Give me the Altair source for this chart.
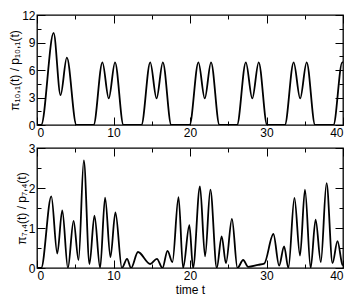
import altair as alt
import pandas as pd

# ---- data ----
t_top = [0, 0.55, 2.17, 3.08, 3.9, 5.15,
         7.4, 8.55, 9.38, 10.2, 11.3,
         13.65, 14.8, 15.63, 16.45, 17.55,
         19.95, 21.1, 21.93, 22.75, 23.85,
         26.15, 27.3, 28.14, 28.98, 30.08,
         32.4, 33.55, 34.4, 35.25, 36.35,
         38.75, 39.9, 40]
v_top = [0, 0, 10.05, 3.25, 7.34, 0,
         0, 6.84, 2.9, 6.84, 0,
         0, 6.84, 2.9, 6.84, 0,
         0, 6.84, 2.9, 6.84, 0,
         0, 6.84, 2.9, 6.84, 0,
         0, 6.84, 2.9, 6.84, 0,
         0, 6.84, 6.8]

t_bot = [0, 0.55, 1.87, 2.65, 3.3, 4.04, 4.78, 5.43, 6.12, 6.86, 7.51, 8.25,
         8.9, 9.6, 10.25, 11.1, 11.77, 12.3, 13.2, 14.8, 15.67, 16.4, 17.06,
         17.7, 18.5, 19.1, 19.92, 20.4, 21.3, 21.97, 22.66, 23.5, 24.14, 24.7,
         25.48, 26.2, 26.95, 27.6, 28.9, 29.7, 30.9, 31.65, 32.3, 32.86, 33.65,
         34.38, 35.03, 35.77, 36.42, 37.1, 37.85, 38.63, 39.28, 39.93, 40]
v_bot = [0, 0, 1.79, 0.36, 1.44, 0.0, 1.18, 0.2, 2.69, 0.1, 1.31, 0.0,
         1.76, 0.27, 1.39, 0.0, 0.23, 0.0, 0.4, 0.1, 0.23, 0.0, 0.43,
         0.15, 1.77, 0.0, 1.07, 0.0, 2.04, 0.29, 1.96, 0.0, 0.79, 0.12,
         1.23, 0.0, 0.2, 0.03, 0.08, 0.11, 0.85, 0.06, 0.54, 0.0, 1.75,
         0.31, 1.96, 0.0, 1.21, 0.15, 2.12, 0.12, 0.67, 0.08, 0.07]

x_major = [0, 10, 20, 30, 40]
x_minor = [5, 15, 25, 35]
top_major = [0, 3, 6, 9, 12]
top_minor = [1.5, 4.5, 7.5, 10.5]
bot_major = [0, 1, 2, 3]
bot_minor = [0.5, 1.5, 2.5]

top_title = "π₁₀,₁(t) / p₁₀,₁(t)"
bot_title = "π₇,₄(t) / p₇,₄(t)"
x_title = "time t"

W = 306
H_TOP = 110
H_BOT = 120


def panel(t, v, ymax, ymajor, yminor, ytitle, xtitle, H):
    df = pd.DataFrame({"t": t, "v": v})
    base = alt.Chart(df)
    xs = alt.Scale(domain=[0, 40], nice=False, zero=False)
    ys = alt.Scale(domain=[0, ymax], nice=False, zero=False)
    xaxis = dict(values=x_major, ticks=False, domain=False, grid=False,
                 labelPadding=2, format="d")
    if xtitle:
        xaxis["title"] = xtitle
        xaxis["titlePadding"] = 3
    else:
        xaxis["title"] = None
    main = base.mark_line(color="black", strokeWidth=1.8,
                          interpolate="monotone", clip=True).encode(
        x=alt.X("t:Q", scale=xs, axis=alt.Axis(**xaxis)),
        y=alt.Y("v:Q", scale=ys, axis=alt.Axis(
            values=ymajor, ticks=False, domain=False, grid=False,
            labelPadding=2, title=ytitle, titlePadding=0, format="d")),
    )

    def ticklayer(xv, yv, size, xo, yo):
        return base.mark_line(strokeOpacity=0).encode(
            x=alt.X("t:Q", scale=xs, axis=alt.Axis(
                orient=xo, offset=-H, values=xv, labels=False, domain=False,
                grid=False, tickSize=size, title=None, tickColor="black",
                tickWidth=1)),
            y=alt.Y("v:Q", scale=ys, axis=alt.Axis(
                orient=yo, offset=-W, values=yv, labels=False, domain=False,
                grid=False, tickSize=size, title=None, tickColor="black",
                tickWidth=1)),
        )

    layers = [
        main,
        ticklayer(x_major, ymajor, 8, "top", "right"),
        ticklayer(x_major, ymajor, 8, "bottom", "left"),
        ticklayer(x_minor, yminor, 4, "top", "right"),
        ticklayer(x_minor, yminor, 4, "bottom", "left"),
    ]
    return alt.layer(*layers).resolve_axis(
        x="independent", y="independent").properties(width=W, height=H)


top = panel(t_top, v_top, 12, top_major, top_minor, top_title, None, H_TOP)
bot = panel(t_bot, v_bot, 3, bot_major, bot_minor, bot_title, x_title, H_BOT)

chart = alt.vconcat(top, bot, spacing=2).properties(
    padding={"left": 0, "top": 0, "right": 0, "bottom": 0}
).configure_view(
    stroke="black", strokeWidth=1.3
).configure_axis(
    labelFont="Liberation Sans", labelFontSize=12, labelColor="black",
    titleFont="Liberation Sans", titleFontSize=12, titleColor="black",
    titleFontWeight="normal"
)

chart.save("out.html", embed_options={"renderer": "svg", "actions": False})
